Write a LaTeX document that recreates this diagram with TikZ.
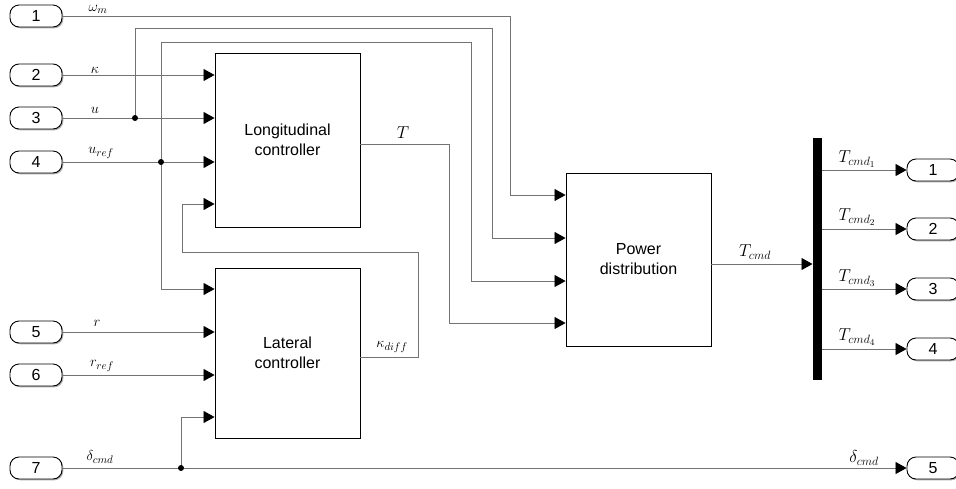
\documentclass[tikz,border=0pt]{standalone}
\usepackage{fontspec}
\newfontfamily\arialf{Liberation Sans}
\usetikzlibrary{arrows.meta,shadows,calc}
\begin{document}
\begin{tikzpicture}[x=1pt,y=-1pt,
 wire/.style={draw=black!55, line width=0.8pt},
 arr/.style={-{Triangle[length=11pt,width=12pt,color=black]}},
 shad/.style={drop shadow={shadow xshift=1.3pt, shadow yshift=-1.3pt, opacity=0.45, fill=black!70}},
 blk/.style={draw, line width=0.9pt, fill=white, minimum width=145pt, inner sep=0pt, font=\arialf\fontsize{16}{20}\selectfont, align=center, shad},
 port/.style={draw, line width=0.9pt, fill=white, rounded corners=9pt, minimum width=52pt, minimum height=22pt, inner sep=0pt, font=\arialf\fontsize{16}{16}\selectfont, shad},
 lbl/.style={font=\fontsize{15.5}{15.5}\selectfont, inner sep=0pt},
 lblb/.style={font=\fontsize{17.5}{17.5}\selectfont, inner sep=0pt},
 dotc/.style={fill=black}
]
\useasboundingbox (0,0) rectangle (956,488);
% input ports
\node[port] (in1) at (36,16) {1};
\node[port] (in2) at (36,75) {2};
\node[port] (in3) at (36,118) {3};
\node[port] (in4) at (36,162) {4};
\node[port] (in5) at (36,332) {5};
\node[port] (in6) at (36,375) {6};
\node[port] (in7) at (36,468) {7};
% blocks
\node[blk, minimum height=174pt] (long) at (287.5,140) {Longitudinal\\controller};
\node[blk, minimum height=170pt] (lat) at (287.5,353) {Lateral\\controller};
\node[blk, minimum height=173pt] (pow) at (638.5,259.5) {Power\\distribution};
\node[fill=black, minimum width=9pt, minimum height=242pt, inner sep=0pt] (bus) at (817.2,259) {};
% output ports
\node[port] (out1) at (933,170) {1};
\node[port] (out2) at (933,229) {2};
\node[port] (out3) at (933,289) {3};
\node[port] (out4) at (933,349) {4};
\node[port] (out5) at (933,468) {5};
% block input points
\coordinate (L1) at (long.west |- 0,75);
\coordinate (L2) at (long.west |- 0,118);
\coordinate (L3) at (long.west |- 0,162);
\coordinate (L4) at (long.west |- 0,204);
\coordinate (A1) at (lat.west |- 0,289);
\coordinate (A2) at (lat.west |- 0,332);
\coordinate (A3) at (lat.west |- 0,375);
\coordinate (A4) at (lat.west |- 0,417);
\coordinate (P1) at (pow.west |- 0,195);
\coordinate (P2) at (pow.west |- 0,238);
\coordinate (P3) at (pow.west |- 0,281);
\coordinate (P4) at (pow.west |- 0,323);
\coordinate (Tout) at (long.east |- 0,144);
\coordinate (Kout) at (lat.east |- 0,357);
\coordinate (Pout) at (pow.east |- 0,264);
\coordinate (Bin) at (bus.west |- 0,264);
\coordinate (B1) at (bus.east |- 0,170);
\coordinate (B2) at (bus.east |- 0,229);
\coordinate (B3) at (bus.east |- 0,289);
\coordinate (B4) at (bus.east |- 0,349);
\coordinate (j3) at (135,118);
\coordinate (j4) at (161,162);
\coordinate (j7) at (181,468);
% wires
\draw[wire,arr] (in1.east) -- (510.7,16) |- (P1);
\draw[wire,arr] (in2.east) -- (L1);
\draw[wire,arr] (in3.east) -- (L2);
\draw[wire,arr] (j3) |- (492.3,28) |- (P2);
\draw[wire,arr] (in4.east) -- (L3);
\draw[wire,arr] (j4) |- (471.7,42) |- (P3);
\draw[wire,arr] (j4) |- (A1);
\draw[wire,arr] (Tout) -- (449.3,144) |- (P4);
\draw[wire,arr] (in5.east) -- (A2);
\draw[wire,arr] (in6.east) -- (A3);
\draw[wire,arr] (in7.east) -- (out5.west);
\draw[wire,arr] (j7) |- (A4);
\draw[wire,arr] (Kout) -- (418.3,357) |- (182.7,252.3) |- (L4);
\draw[wire,arr] (Pout) -- (Bin);
\draw[wire,arr] (B1) -- (out1.west);
\draw[wire,arr] (B2) -- (out2.west);
\draw[wire,arr] (B3) -- (out3.west);
\draw[wire,arr] (B4) -- (out4.west);
\fill[dotc] (j3) circle (3pt);
\fill[dotc] (j4) circle (3pt);
\fill[dotc] (j7) circle (3pt);
% labels
\node[lbl] (lw) at (98,9) {$\omega_m$};
\node[lbl] (lk) at (95,70) {$\kappa$};
\node[lbl] (lu) at (95,110) {$u$};
\node[lbl] (lur) at (101,153) {$u_{ref}$};
\node[lbl] (lr) at (97,323) {$r$};
\node[lbl] (lrr) at (102,366) {$r_{ref}$};
\node[lbl] (ld) at (100,457) {$\delta_{cmd}$};
\node[lblb] (lT) at (403,133) {$T$};
\node[lbl] (lkd) at (392,347) {$\kappa_{diff}$};
\node[lblb] (lTc) at (755,252) {$T_{cmd}$};
\node[lblb] (lT1) at (857,159) {$T_{{cmd}_1}$};
\node[lblb] (lT2) at (857,217) {$T_{{cmd}_2}$};
\node[lblb] (lT3) at (857,278) {$T_{{cmd}_3}$};
\node[lblb] (lT4) at (857,337) {$T_{{cmd}_4}$};
\node[lblb] (ld2) at (864,458) {$\delta_{cmd}$};
\end{tikzpicture}
\end{document}
